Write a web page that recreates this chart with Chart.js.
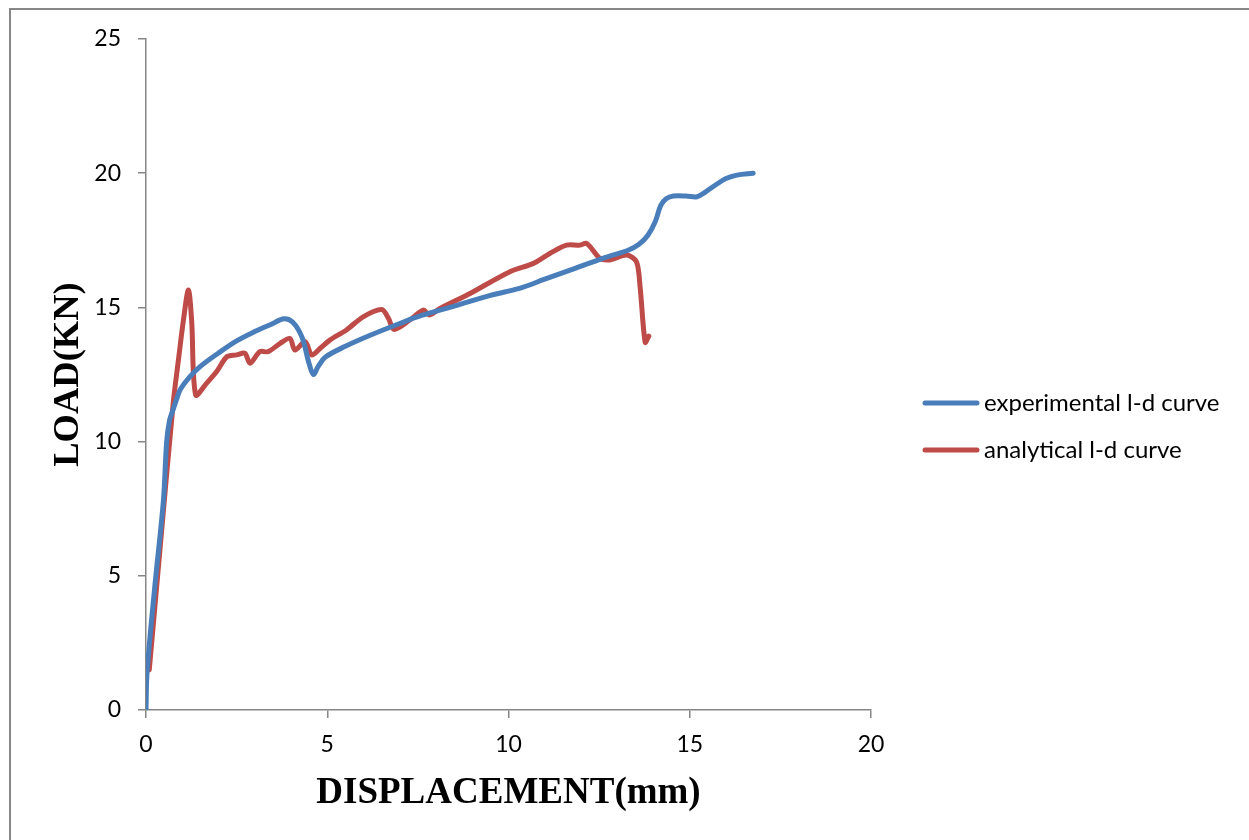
<!DOCTYPE html>
<html>
<head>
<meta charset="utf-8">
<title>Load - displacement</title>
<script src="https://cdn.jsdelivr.net/npm/chart.js@4.4.1/dist/chart.umd.min.js"></script>
<style>
  html, body { margin:0; padding:0; background:#fff; overflow:hidden; }
  #frame { position:absolute; left:9px; top:8px; width:1400px; height:1000px; border:2px solid #878787; }
  #wrap { position:absolute; left:0; top:0; width:1249px; height:840px; }
</style>
</head>
<body>
<div id="frame"></div>
<div id="wrap"><canvas id="grafico" width="1249" height="840"></canvas></div>
<script>
"use strict";

/* ===== DADOS ===== */

const xTicks = [0, 5, 10, 15, 20];
const yTicks = [0, 5, 10, 15, 20, 25];

const expLabel = "experimental l-d curve";
const expX = [0, 0.03, 0.25, 0.48, 0.57, 0.65, 0.75, 0.85, 0.95, 1.2, 1.5, 2.0, 2.5, 3.0, 3.5, 3.8, 4.05, 4.3, 4.5, 4.62, 4.75, 4.95, 5.5, 6.2, 7.0, 7.6, 8.5, 9.5, 10.3, 11.0, 11.7, 12.6, 13.3, 13.6, 13.85, 14.05, 14.2, 14.35, 14.55, 14.9, 15.2, 15.4, 15.7, 16.0, 16.3, 16.75];
const expY = [0, 1.4, 4.7, 7.8, 10.0, 10.8, 11.2, 11.6, 11.95, 12.4, 12.8, 13.3, 13.75, 14.1, 14.4, 14.58, 14.45, 13.9, 12.9, 12.5, 12.8, 13.15, 13.55, 13.97, 14.4, 14.7, 15.05, 15.45, 15.71, 16.05, 16.39, 16.83, 17.13, 17.35, 17.7, 18.2, 18.8, 19.05, 19.15, 19.15, 19.12, 19.27, 19.55, 19.8, 19.93, 20.0];

const anaLabel = "analytical l-d curve";
const anaX = [0.09, 0.4, 0.75, 0.9, 1.03, 1.17, 1.26, 1.37, 1.67, 1.95, 2.23, 2.5, 2.73, 2.87, 3.14, 3.37, 3.7, 3.97, 4.11, 4.39, 4.57, 4.8, 5.08, 5.53, 5.99, 6.5, 6.69, 6.84, 7.28, 7.65, 7.82, 8.11, 8.94, 10.04, 10.69, 11.14, 11.6, 11.97, 12.16, 12.52, 12.8, 13.26, 13.53, 13.63, 13.77, 13.87];
const anaY = [1.5, 6.2, 11.43, 13.1, 14.5, 15.65, 14.5, 11.74, 12.17, 12.61, 13.16, 13.23, 13.29, 12.92, 13.35, 13.35, 13.66, 13.84, 13.41, 13.72, 13.23, 13.47, 13.79, 14.16, 14.65, 14.92, 14.59, 14.18, 14.53, 14.9, 14.72, 14.96, 15.52, 16.33, 16.64, 17.01, 17.32, 17.32, 17.38, 16.83, 16.77, 16.95, 16.7, 15.77, 13.7, 13.93];

/* ===== HELPERS ===== */

function pares(xs, ys){
    return xs.map(function(x, i){ return { x:x, y:ys[i] }; });
}

const familiaSans = "Lato, 'Open Sans', sans-serif";
const familiaSerif = "'Liberation Serif', 'Times New Roman', serif";
const fonteTick = { family:familiaSans, size:23 };
const cinza = "#868686";

/* legenda desenhada ao lado, como no Excel */
const legendaLateral = {
    id:"legendaLateral",
    afterDraw:function(chart){
        const ctx = chart.ctx;
        ctx.save();
        chart.data.datasets.forEach(function(ds, i){
            const y = 403 + i * 47;
            ctx.strokeStyle = ds.borderColor;
            ctx.lineWidth = 5;
            ctx.lineCap = "round";
            ctx.beginPath();
            ctx.moveTo(925, y);
            ctx.lineTo(977, y);
            ctx.stroke();
            ctx.fillStyle = "#000";
            ctx.font = "24px " + familiaSans;
            ctx.textBaseline = "middle";
            ctx.textAlign = "left";
            ctx.fillText(ds.label, 984, y);
        });
        ctx.restore();
    }
};

/* ===== GRAFICO ===== */

new Chart(document.getElementById("grafico"), {
    type:"scatter",
    data:{
        datasets:[
            {
                label:expLabel,
                data:pares(expX, expY),
                borderColor:"#4a7ebb",
                backgroundColor:"#4a7ebb",
                borderWidth:5,
                showLine:true,
                pointRadius:0,
                tension:0.35,
                borderCapStyle:"round",
                borderJoinStyle:"round"
            },
            {
                label:anaLabel,
                data:pares(anaX, anaY),
                borderColor:"#be4b48",
                backgroundColor:"#be4b48",
                borderWidth:5,
                showLine:true,
                pointRadius:0,
                tension:0.3,
                borderCapStyle:"round",
                borderJoinStyle:"round"
            }
        ]
    },
    options:{
        responsive:false,
        animation:false,
        layout:{ padding:{ top:39, right:378, left:0, bottom:0 } },
        plugins:{
            legend:{ display:false },
            tooltip:{ enabled:false }
        },
        scales:{
            x:{
                type:"linear",
                min:xTicks[0],
                max:xTicks[xTicks.length - 1],
                afterBuildTicks:function(s){ s.ticks = xTicks.map(function(v){ return { value:v }; }); },
                afterFit:function(s){ s.height = 130; },
                ticks:{ color:"#000", font:fonteTick, padding:13 },
                grid:{ drawOnChartArea:false, drawTicks:true, tickLength:8, color:cinza, lineWidth:1.5 },
                border:{ color:cinza, width:1.5 },
                title:{ display:true, text:"DISPLACEMENT(mm)", color:"#000",
                        font:{ family:familiaSerif, size:37, weight:"bold" }, padding:{ top:0, bottom:24 } }
            },
            y:{
                type:"linear",
                min:yTicks[0],
                max:yTicks[yTicks.length - 1],
                afterBuildTicks:function(s){ s.ticks = yTicks.map(function(v){ return { value:v }; }); },
                afterFit:function(s){ s.width = 146; },
                ticks:{ color:"#000", font:fonteTick, padding:17 },
                grid:{ drawOnChartArea:false, drawTicks:true, tickLength:8, color:cinza, lineWidth:1.5 },
                border:{ color:cinza, width:1.5 },
                title:{ display:true, text:"LOAD(KN)", color:"#000",
                        font:{ family:familiaSerif, size:36.5, weight:"bold" }, padding:{ top:47, bottom:0 } }
            }
        }
    },
    plugins:[legendaLateral]
});
</script>
</body>
</html>
